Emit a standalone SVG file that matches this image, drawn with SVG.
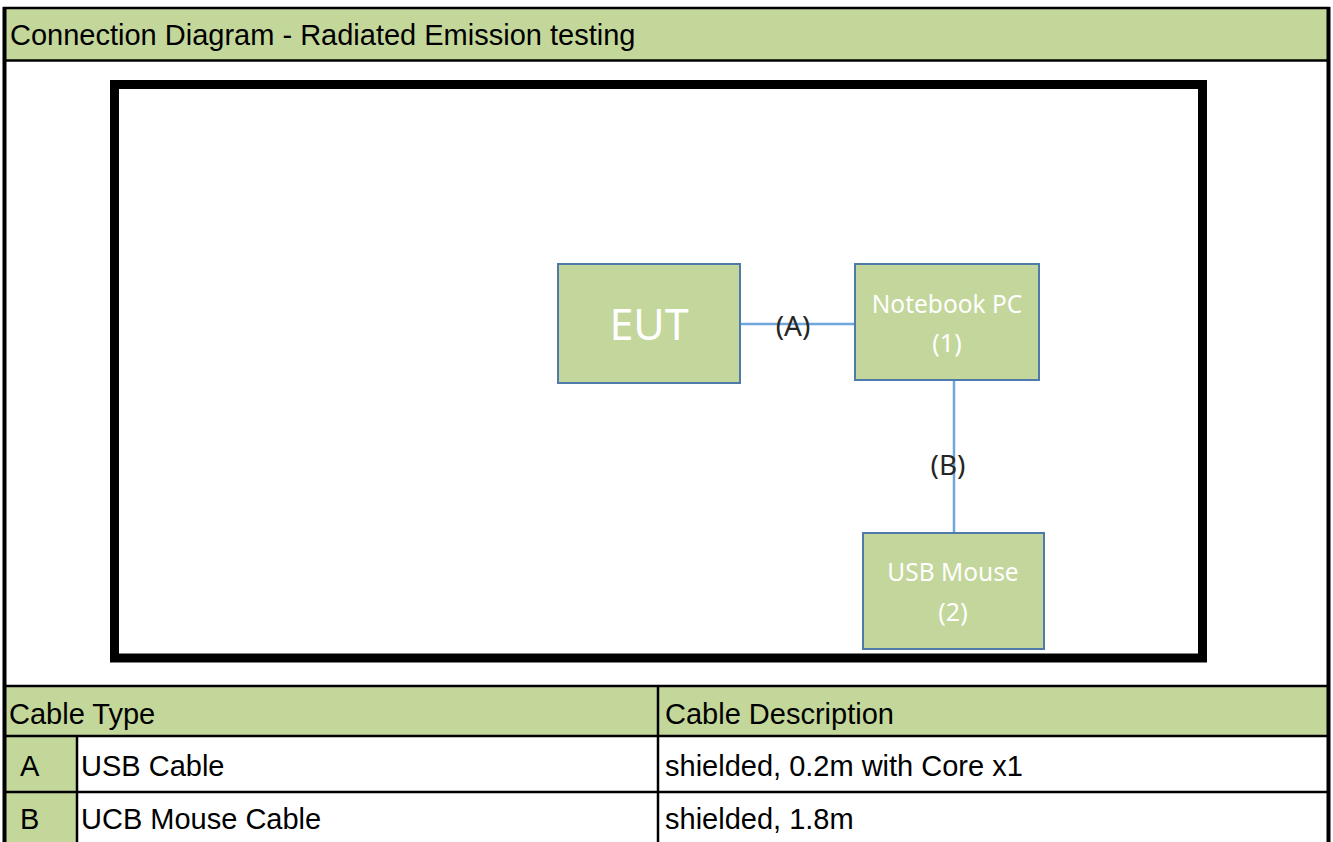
<svg xmlns="http://www.w3.org/2000/svg" width="1333" height="842" viewBox="0 0 1333 842">
<style>
.hdr{fill:#C4D79B}
.cell{font-family:"Liberation Sans",Arial,sans-serif;font-size:29px;fill:#000}
.grid{stroke:#000;stroke-width:2.5;fill:none}
.box{fill:#C3D69B;stroke:#4F7BAA;stroke-width:2}
.boxt{font-family:"Noto Sans","Open Sans",sans-serif;fill:#FFFFFF;text-anchor:middle}
.conn{stroke:#6FA6DC;stroke-width:2.5;fill:none}
.lbl{font-family:"Noto Sans","Open Sans",sans-serif;font-size:28px;fill:#262626;text-anchor:middle}
</style>
<rect x="0" y="0" width="1333" height="842" fill="#FFFFFF"/>
<g id="title">
<rect class="hdr" x="4" y="8" width="1324" height="52"/>
<text class="cell" x="10" y="45">Connection Diagram - Radiated Emission testing</text>
</g>
<g id="table">
<rect class="hdr" x="4" y="686" width="1324" height="50"/>
<rect class="hdr" x="4" y="736" width="73" height="106"/>
<text class="cell" x="9" y="724">Cable Type</text>
<text class="cell" x="665" y="724">Cable Description</text>
<text class="cell" x="20" y="776">A</text>
<text class="cell" x="81" y="776">USB Cable</text>
<text class="cell" x="665" y="776">shielded, 0.2m with Core x1</text>
<text class="cell" x="20" y="829">B</text>
<text class="cell" x="81" y="829">UCB Mouse Cable</text>
<text class="cell" x="665" y="829">shielded, 1.8m</text>
<line class="grid" x1="4" y1="686" x2="1328" y2="686"/>
<line class="grid" x1="4" y1="736" x2="1328" y2="736"/>
<line class="grid" x1="4" y1="792" x2="1328" y2="792"/>
<line class="grid" x1="77" y1="736" x2="77" y2="842"/>
<line class="grid" x1="658" y1="686" x2="658" y2="842"/>
</g>
<g id="frame">
<line class="grid" x1="3" y1="8" x2="1330" y2="8"/>
<line class="grid" x1="4" y1="60.5" x2="1328" y2="60.5"/>
<line x1="4.5" y1="7" x2="4.5" y2="842" stroke="#000" stroke-width="4"/>
<line x1="1328.5" y1="7" x2="1328.5" y2="842" stroke="#000" stroke-width="4"/>
</g>
<g id="chamber">
<rect x="114.5" y="84.5" width="1088" height="573.5" fill="none" stroke="#000" stroke-width="9"/>
</g>
<g id="connectors">
<line class="conn" x1="740" y1="324" x2="855" y2="324"/>
<line class="conn" x1="954" y1="380" x2="954" y2="533"/>
<text class="lbl" x="793" y="336">(A)</text>
<text class="lbl" x="948" y="475">(B)</text>
</g>
<g id="eut">
<rect class="box" x="558" y="264" width="182" height="119"/>
<text class="boxt" x="649" y="340" font-size="43">EUT</text>
</g>
<g id="notebook">
<rect class="box" x="855" y="264" width="184" height="116"/>
<text class="boxt" x="947" y="313" font-size="24.5">Notebook PC</text>
<text class="boxt" x="947" y="352" font-size="25">(1)</text>
</g>
<g id="mouse">
<rect class="box" x="863" y="533" width="181" height="116"/>
<text class="boxt" x="953" y="581" font-size="24.5">USB Mouse</text>
<text class="boxt" x="953" y="621" font-size="25">(2)</text>
</g>
</svg>
